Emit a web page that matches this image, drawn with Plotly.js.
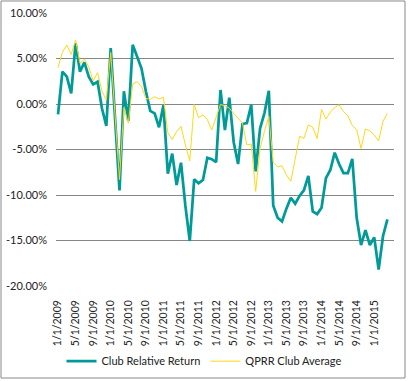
<!DOCTYPE html>
<html>
<head>
<meta charset="utf-8">
<script src="https://cdn.plot.ly/plotly-3.0.1.min.js"></script>
<style>html,body{margin:0;padding:0;background:#fff;}#chart{width:408px;height:381px;}</style>
</head>
<body>
<div id="chart"></div>
<script>
var months = [
"1/1/2009","2/1/2009","3/1/2009","4/1/2009","5/1/2009","6/1/2009","7/1/2009","8/1/2009","9/1/2009","10/1/2009","11/1/2009","12/1/2009",
"1/1/2010","2/1/2010","3/1/2010","4/1/2010","5/1/2010","6/1/2010","7/1/2010","8/1/2010","9/1/2010","10/1/2010","11/1/2010","12/1/2010",
"1/1/2011","2/1/2011","3/1/2011","4/1/2011","5/1/2011","6/1/2011","7/1/2011","8/1/2011","9/1/2011","10/1/2011","11/1/2011","12/1/2011",
"1/1/2012","2/1/2012","3/1/2012","4/1/2012","5/1/2012","6/1/2012","7/1/2012","8/1/2012","9/1/2012","10/1/2012","11/1/2012","12/1/2012",
"1/1/2013","2/1/2013","3/1/2013","4/1/2013","5/1/2013","6/1/2013","7/1/2013","8/1/2013","9/1/2013","10/1/2013","11/1/2013","12/1/2013",
"1/1/2014","2/1/2014","3/1/2014","4/1/2014","5/1/2014","6/1/2014","7/1/2014","8/1/2014","9/1/2014","10/1/2014","11/1/2014","12/1/2014",
"1/1/2015","2/1/2015","3/1/2015","4/1/2015"
];
var clubRelativeReturn = [
-1.13,3.55,3.0,1.17,6.67,3.55,4.58,3.0,2.16,2.45,-0.47,-2.4,
6.15,-1.5,-9.5,1.4,-1.85,6.5,5.2,3.92,1.4,-0.75,-1.03,-2.55,
-0.15,-7.65,-5.45,-8.9,-6.45,-11.2,-15.05,-8.28,-8.7,-8.35,-5.9,-6.06,
-6.4,1.54,-2.86,0.7,-4.2,-6.6,-2.2,-2.1,-0.1,-7.4,-2.68,-1.0,
1.45,-11.15,-12.5,-12.9,-11.5,-10.3,-10.95,-10.1,-9.45,-7.9,-11.8,-12.1,
-11.4,-8.15,-7.25,-5.35,-6.6,-7.6,-7.6,-6.04,-12.5,-15.5,-13.85,-15.5,
-14.65,-18.2,-14.5,-12.67
];
var qprrClubAverage = [
3.99,5.68,6.48,5.46,7.03,4.47,4.91,4.1,2.53,3.44,1.43,0.44,
5.65,-1.2,-8.3,-0.4,-2.1,2.2,2.45,1.9,0.62,0.51,0.8,0.55,
0.73,-3.15,-3.9,-3.04,-2.45,-4.5,-6.25,-0.05,-1.5,-1.2,-1.7,-2.86,
-1.45,-0.05,-0.2,-0.45,-1.03,-1.57,-2.1,-4.5,-4.4,-9.6,-4.9,-3.0,
-1.35,-6.4,-6.9,-6.8,-7.8,-8.5,-6.15,-3.55,-3.77,-2.3,-2.55,-3.8,
-0.6,-1.65,-0.9,-0.4,-0.08,-0.84,-1.3,-2.35,-2.83,-4.87,-2.75,-2.95,
-3.4,-4.05,-1.9,-1.03
];
var xTickVals = ["1/1/2009","5/1/2009","9/1/2009","1/1/2010","5/1/2010","9/1/2010","1/1/2011","5/1/2011","9/1/2011","1/1/2012","5/1/2012","9/1/2012","1/1/2013","5/1/2013","9/1/2013","1/1/2014","5/1/2014","9/1/2014","1/1/2015"];
var yTickVals = [10,5,0,-5,-10,-15,-20];
var yTickText = ["10.00%","5.00%","0.00%","-5.00%","-10.00%","-15.00%","-20.00%"];
var seriesNames = ["Club Relative Return","QPRR Club Average"];

var fontFam = "Lato, 'Liberation Sans', sans-serif";
var traces = [
  {x: months, y: clubRelativeReturn, name: seriesNames[0], type: 'scatter', mode: 'lines',
   line: {color: '#009a98', width: 2.75}},
  {x: months, y: qprrClubAverage, name: seriesNames[1], type: 'scatter', mode: 'lines',
   line: {color: '#ffd81a', width: 1}}
];
var layout = {
  width: 408, height: 381,
  margin: {l: 56, r: 14, t: 13, b: 95},
  paper_bgcolor: '#fff', plot_bgcolor: '#fff',
  font: {family: fontFam, size: 11, color: '#222'},
  showlegend: true,
  legend: {orientation: 'h', xref: 'container', yref: 'container', x: 0.5, xanchor: 'center',
           y: 0.052, yanchor: 'middle', font: {family: fontFam, size: 11, color: '#222'},
           itemwidth: 30, tracegroupgap: 0},
  xaxis: {type: 'category', range: [-0.46, 76.5], tickmode: 'array', tickvals: xTickVals,
          tickangle: -90, showgrid: false, zeroline: false, showline: false, ticks: '',
          ticklabelstandoff: 11, tickfont: {family: fontFam, size: 10.5, color: '#222'}},
  yaxis: {range: [-20, 10], tickmode: 'array', tickvals: yTickVals, ticktext: yTickText,
          showgrid: true, gridcolor: '#868686', gridwidth: 1, zeroline: false, showline: false,
          ticks: '', ticklabelstandoff: 8, tickfont: {family: fontFam, size: 11, color: '#222'}},
  shapes: [{type: 'rect', xref: 'paper', yref: 'paper',
            x0: -0.1627, x1: 1.0325, y0: -0.337, y1: 1.044,
            line: {color: '#888', width: 1}, fillcolor: 'rgba(0,0,0,0)'}]
};
Plotly.newPlot('chart', traces, layout, {displayModeBar: false, staticPlot: true});
</script>
</body>
</html>
